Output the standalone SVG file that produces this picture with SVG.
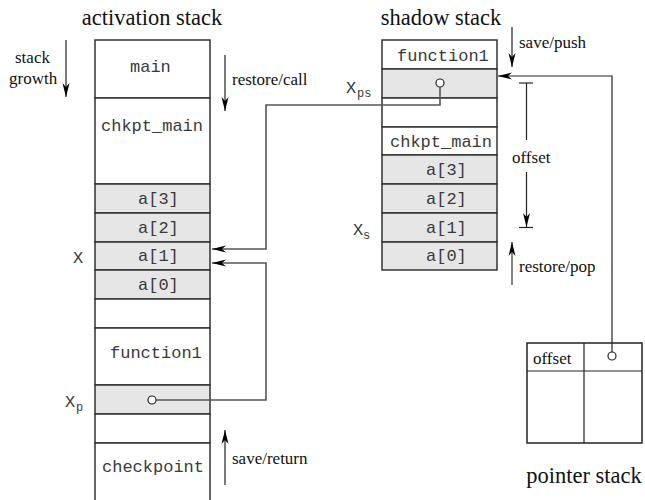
<svg xmlns="http://www.w3.org/2000/svg" width="645" height="500" viewBox="0 0 645 500">
<style>
.cell{fill:#fff;stroke:#333;stroke-width:1.5}
.g{fill:#e6e6e6;stroke:#333;stroke-width:1.5}
.mono{font-family:"Liberation Mono",monospace;font-size:17px;fill:#3a3a3a}
.ser{font-family:"Liberation Serif",serif;font-size:17px;fill:#111}
.title{font-family:"Liberation Serif",serif;font-size:22.5px;fill:#111;text-anchor:middle}
.sub{font-family:"Liberation Mono",monospace;font-size:12px;fill:#3a3a3a}
.con{fill:none;stroke:#555;stroke-width:1.6}
.thin{fill:none;stroke:#222;stroke-width:1.2}
.dot{fill:#fff;stroke:#222;stroke-width:1.2}
</style>
<defs>
<marker id="ah" viewBox="0 0 14 10" refX="14" refY="5" markerWidth="14" markerHeight="10" markerUnits="userSpaceOnUse" orient="auto">
<path d="M0,1.5 L14,5 L0,8.5 L4,5 Z" fill="#000"/>
</marker>
</defs>
<rect width="645" height="500" fill="#fff"/>

<g id="activation-stack">
<text class="title" x="152" y="25">activation stack</text>
<rect class="cell" x="95" y="40" width="115" height="58"/>
<rect class="cell" x="95" y="98" width="115" height="86"/>
<rect class="g" x="95" y="184" width="115" height="29"/>
<rect class="g" x="95" y="213" width="115" height="29"/>
<rect class="g" x="95" y="242" width="115" height="28"/>
<rect class="g" x="95" y="270" width="115" height="29"/>
<rect class="cell" x="95" y="299" width="115" height="29"/>
<rect class="cell" x="95" y="328" width="115" height="57"/>
<rect class="g" x="95" y="385" width="115" height="29"/>
<rect class="cell" x="95" y="414" width="115" height="29"/>
<path class="cell" d="M95,502 V443 H210 V502"/>
<text class="mono" x="130" y="72">main</text>
<text class="mono" x="101" y="131">chkpt_main</text>
<text class="mono" x="138" y="204">a[3]</text>
<text class="mono" x="138" y="233">a[2]</text>
<text class="mono" x="138" y="261">a[1]</text>
<text class="mono" x="138" y="290">a[0]</text>
<text class="mono" x="110" y="358">function1</text>
<text class="mono" x="102" y="472">checkpoint</text>
<text class="mono" x="73" y="263">X</text>
<text class="mono" x="65" y="407">X</text><text class="sub" x="76" y="411">p</text>
<circle class="dot" cx="152" cy="400" r="4"/>
</g>

<g id="shadow-stack">
<text class="title" x="441" y="25">shadow stack</text>
<rect class="cell" x="382" y="40" width="115" height="29"/>
<rect class="g" x="382" y="69" width="115" height="29"/>
<rect class="cell" x="382" y="98" width="115" height="29"/>
<rect class="cell" x="382" y="127" width="115" height="28"/>
<rect class="g" x="382" y="155" width="115" height="29"/>
<rect class="g" x="382" y="184" width="115" height="29"/>
<rect class="g" x="382" y="213" width="115" height="29"/>
<rect class="g" x="382" y="242" width="115" height="28"/>
<text class="mono" x="397" y="61">function1</text>
<text class="mono" x="390" y="147">chkpt_main</text>
<text class="mono" x="426" y="175">a[3]</text>
<text class="mono" x="426" y="204">a[2]</text>
<text class="mono" x="426" y="233">a[1]</text>
<text class="mono" x="426" y="261">a[0]</text>
<text class="mono" x="346" y="93">X</text><text class="sub" x="357" y="97">ps</text>
<text class="mono" x="353" y="235">X</text><text class="sub" x="363" y="239">s</text>
<circle class="dot" cx="440" cy="83" r="4"/>
</g>

<g id="pointer-stack">
<rect class="cell" x="527" y="343" width="115" height="100" style="stroke:#222"/>
<line class="thin" x1="527" y1="371" x2="642" y2="371"/>
<line class="thin" x1="584" y1="343" x2="584" y2="443"/>
<text class="ser" x="533" y="364">offset</text>
<circle class="dot" cx="612" cy="356" r="4"/>
<text class="title" x="584" y="483">pointer stack</text>
</g>

<g id="connectors">
<path class="con" d="M440,87 V105 H266 V249 H212" marker-end="url(#ah)"/>
<path class="con" d="M156,400 H266 V263 H212" marker-end="url(#ah)"/>
<path class="thin" d="M612,352 V76 H498" marker-end="url(#ah)"/>
</g>

<g id="labels">
<text class="ser" x="15" y="63">stack</text>
<text class="ser" x="9" y="84">growth</text>
<line class="thin" x1="66" y1="40" x2="66" y2="97" marker-end="url(#ah)"/>
<line class="thin" x1="225" y1="55" x2="225" y2="111" marker-end="url(#ah)"/>
<text class="ser" x="232" y="85">restore/call</text>
<line class="thin" x1="225" y1="485" x2="225" y2="430" marker-end="url(#ah)"/>
<text class="ser" x="232" y="464">save/return</text>
<line class="thin" x1="512" y1="27" x2="512" y2="67" marker-end="url(#ah)"/>
<text class="ser" x="519" y="48">save/push</text>
<line class="con" x1="512" y1="285" x2="512" y2="242" marker-end="url(#ah)" style="stroke:#666"/>
<text class="ser" x="519" y="272">restore/pop</text>
<line class="thin" x1="519" y1="83" x2="533" y2="83"/>
<line class="thin" x1="526.5" y1="83" x2="526.5" y2="140"/>
<text class="ser" x="512" y="163">offset</text>
<line class="thin" x1="526.5" y1="172" x2="526.5" y2="227" marker-end="url(#ah)"/>
<line class="thin" x1="519" y1="227.5" x2="533" y2="227.5"/>
</g>
</svg>
